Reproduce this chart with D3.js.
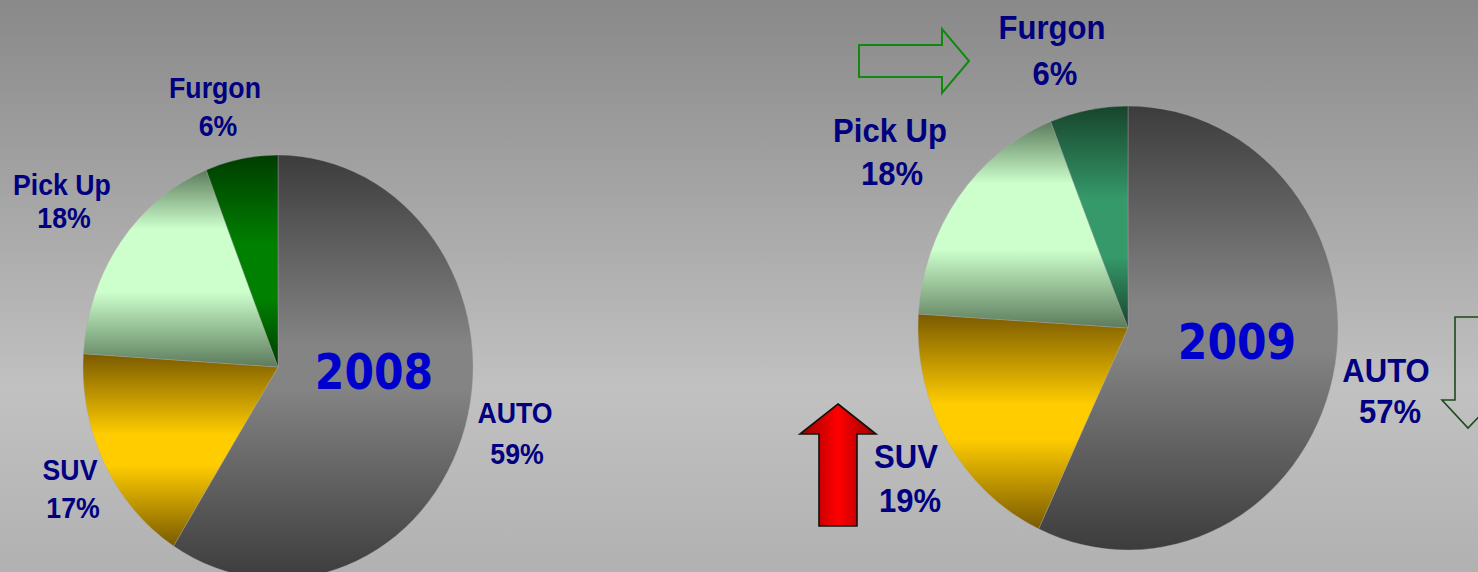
<!DOCTYPE html>
<html>
<head>
<meta charset="utf-8">
<script src="https://cdn.jsdelivr.net/npm/d3@7/dist/d3.min.js"></script>
<style>
  html, body { margin: 0; padding: 0; overflow: hidden; }
  svg { display: block; }
</style>
</head>
<body>
<svg id="chart" width="1478" height="572"></svg>
<script>
// ---------------- data ----------------
const categories = ["AUTO", "SUV", "Pick Up", "Furgon"];
const years = ["2008", "2009"];
const values2008 = [59, 17, 18, 6];
const values2009 = [57, 19, 18, 6];
const percentLabels2008 = ["59%", "17%", "18%", "6%"];
const percentLabels2009 = ["57%", "19%", "18%", "6%"];

// ---------------- layout / styles ----------------
const W = 1478, H = 572;
const pies = [
  { year: years[0], values: values2008, pct: percentLabels2008,
    cx: 278, cy: 367, rx: 195, ry: 212, yearX: 374, yearY: 389, fontSize: 30, sx: 0.89,
    labels: [[515, 423, 517, 464], [70, 480, 73, 518], [62, 195, 64, 228], [215, 98, 218, 136]],
    furgon: ["#003c00", "#008000"] },
  { year: years[1], values: values2009, pct: percentLabels2009,
    cx: 1128, cy: 328, rx: 210, ry: 222, yearX: 1237, yearY: 359, fontSize: 33, sx: 0.94,
    labels: [[1386, 382, 1390, 423], [906, 468, 910, 512], [890, 142, 892, 185], [1052, 39, 1055, 85]],
    furgon: ["#17442c", "#35996a"] }
];
// [dark, light, lightStart, lightEnd]
const sliceColors = [
  ["#3c3c3c", "#848484", 0.45, 0.55],  // AUTO
  ["#7a5a00", "#ffcc00", 0.42, 0.58],  // SUV
  ["#5c7b5c", "#ccffcc", 0.30, 0.62],  // Pick Up
  null                                  // Furgon (per pie)
];

const svg = d3.select("#chart");
const defs = svg.append("defs");

// background gradient
const bg = defs.append("linearGradient").attr("id", "bg")
  .attr("x1", 0).attr("y1", 0).attr("x2", 0).attr("y2", 1);
bg.append("stop").attr("offset", "0%").attr("stop-color", "#898989");
bg.append("stop").attr("offset", "68%").attr("stop-color", "#c1c1c1");
bg.append("stop").attr("offset", "100%").attr("stop-color", "#b1b1b1");
svg.append("rect").attr("width", W).attr("height", H).attr("fill", "url(#bg)");

function vGrad(id, dark, light, a, b) {
  const g = defs.append("linearGradient").attr("id", id)
    .attr("x1", 0).attr("y1", 0).attr("x2", 0).attr("y2", 1);
  g.append("stop").attr("offset", 0).attr("stop-color", dark);
  g.append("stop").attr("offset", a).attr("stop-color", light);
  g.append("stop").attr("offset", b).attr("stop-color", light);
  g.append("stop").attr("offset", 1).attr("stop-color", dark);
}

const pie = d3.pie().sort(null).value(d => d);

pies.forEach((p, pi) => {
  categories.forEach((c, i) => {
    const col = sliceColors[i] || [p.furgon[0], p.furgon[1], 0.42, 0.68];
    vGrad(`g${pi}_${i}`, col[0], col[1], col[2], col[3]);
  });
  const arc = d3.arc().innerRadius(0).outerRadius(p.rx);
  const g = svg.append("g")
    .attr("transform", `translate(${p.cx},${p.cy}) scale(1,${p.ry / p.rx})`);
  g.selectAll("path").data(pie(p.values)).join("path")
    .attr("d", arc)
    .attr("fill", (d, i) => `url(#g${pi}_${i})`)
    .attr("stroke", "rgba(170,170,170,0.45)")
    .attr("stroke-width", 0.8)
    .attr("vector-effect", "non-scaling-stroke");

  // year label
  svg.append("text")
    .attr("transform", `translate(${p.yearX},${p.yearY}) scale(0.85,1)`)
    .attr("text-anchor", "middle")
    .attr("font-family", "'DejaVu Sans', Verdana, sans-serif")
    .attr("font-weight", "bold")
    .attr("font-size", 50)
    .attr("fill", "#0000cc")
    .text(p.year);

  // category labels
  categories.forEach((c, i) => {
    const L = p.labels[i];
    [[c, L[0], L[1]], [p.pct[i], L[2], L[3]]].forEach(([t, x, y]) => {
      svg.append("text")
        .attr("transform", `translate(${x},${y}) scale(${p.sx},1)`)
        .attr("text-anchor", "middle")
        .attr("font-family", "'Liberation Sans', Arial, sans-serif")
        .attr("font-weight", "bold")
        .attr("font-size", p.fontSize)
        .attr("fill", "#000080")
        .text(t);
    });
  });
});

// ---------------- annotation arrows ----------------
const line = d3.line();
// green outline right arrow (Furgon)
svg.append("path")
  .attr("d", line([[859, 45], [942, 45], [942, 29], [969, 61], [942, 93], [942, 77], [859, 77]]) + "Z")
  .attr("fill", "none").attr("stroke", "#0f8a0f").attr("stroke-width", 2);

// dark green outline down arrow (AUTO)
svg.append("path")
  .attr("d", line([[1455, 317], [1481, 317], [1481, 400], [1495, 400], [1468, 428], [1442, 400], [1455, 400]]) + "Z")
  .attr("fill", "none").attr("stroke", "#1b4a1b").attr("stroke-width", 1.6);

// red filled up arrow (SUV)
const rg = defs.append("linearGradient").attr("id", "red")
  .attr("x1", 0).attr("y1", 0).attr("x2", 1).attr("y2", 0);
rg.append("stop").attr("offset", "0%").attr("stop-color", "#9a0000");
rg.append("stop").attr("offset", "50%").attr("stop-color", "#ff0000");
rg.append("stop").attr("offset", "100%").attr("stop-color", "#9a0000");
svg.append("path")
  .attr("d", line([[838, 404], [876, 434], [857, 434], [857, 526], [819, 526], [819, 434], [800, 434]]) + "Z")
  .attr("fill", "url(#red)").attr("stroke", "#111").attr("stroke-width", 1.6)
  .attr("stroke-linejoin", "miter");
</script>
</body>
</html>
